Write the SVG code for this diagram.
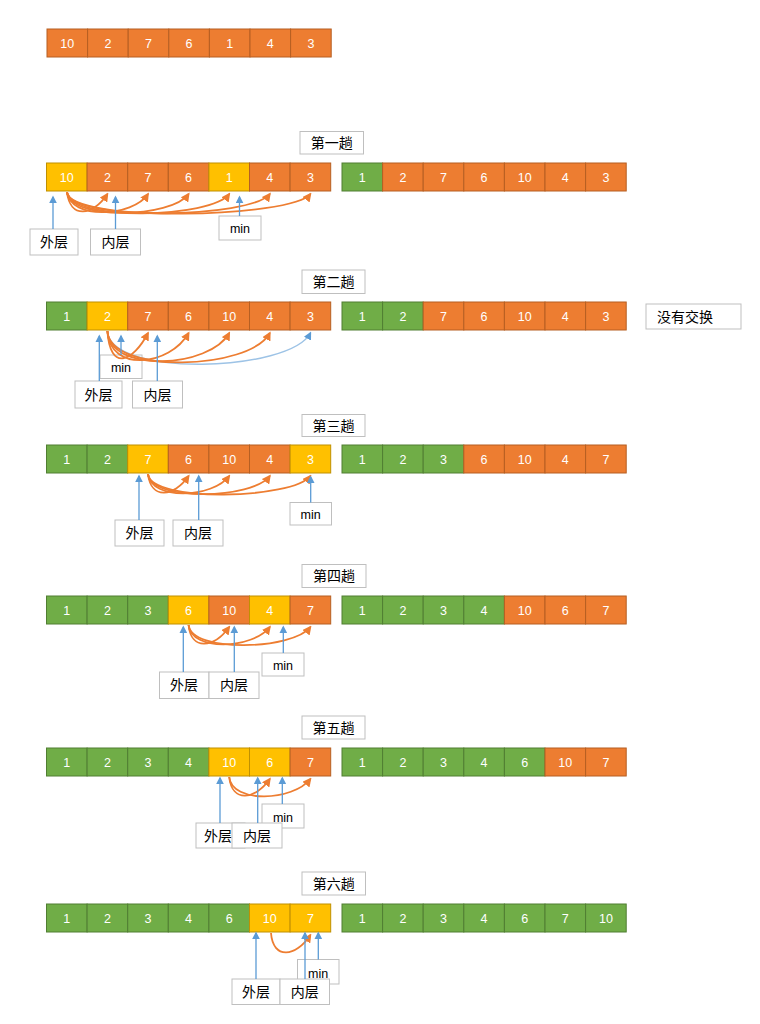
<svg xmlns="http://www.w3.org/2000/svg" width="760" height="1024" viewBox="0 0 760 1024">
<style>
.o{fill:#ED7D31;stroke:#B65F22;stroke-width:1}
.g{fill:#70AD47;stroke:#507E32;stroke-width:1}
.y{fill:#FFC000;stroke:#C09000;stroke-width:1}
.n{font-family:"Liberation Sans","Open Sans",sans-serif;font-size:12.5px;fill:#FFFFFF;text-anchor:middle}
.box{fill:#FFFFFF;stroke:#BFBFBF;stroke-width:1}
.lt{font-family:"Noto Sans CJK SC","Noto Sans",sans-serif;font-size:14px;fill:#000000;text-anchor:middle}
.mt{font-family:"Liberation Sans","Open Sans",sans-serif;font-size:12.5px;fill:#000000;text-anchor:middle}
.arc{fill:none;stroke:#ED7D31;stroke-width:1.8;marker-end:url(#ao)}
.barc{fill:none;stroke:#9DC3E6;stroke-width:1.5;marker-end:url(#ab)}
.bl{fill:none;stroke:#5B9BD5;stroke-width:1.3;marker-end:url(#ab)}
</style>
<defs>
<marker id="ao" viewBox="0 0 10 10" refX="8" refY="5" markerWidth="9" markerHeight="9" markerUnits="userSpaceOnUse" orient="auto"><path d="M0,0 L10,5 L0,10 z" fill="#ED7D31"/></marker>
<marker id="ab" viewBox="0 0 10 10" refX="8" refY="5" markerWidth="8" markerHeight="8" markerUnits="userSpaceOnUse" orient="auto"><path d="M0,0 L10,5 L0,10 z" fill="#5B9BD5"/></marker>
</defs>
<rect width="760" height="1024" fill="#FFFFFF"/>

<!-- top array -->
<g id="initial">
<rect class="o" x="47" y="29" width="40.6" height="28"/><text class="n" x="67.3" y="47.5">10</text>
<rect class="o" x="87.6" y="29" width="40.6" height="28"/><text class="n" x="107.9" y="47.5">2</text>
<rect class="o" x="128.2" y="29" width="40.6" height="28"/><text class="n" x="148.5" y="47.5">7</text>
<rect class="o" x="168.8" y="29" width="40.6" height="28"/><text class="n" x="189.1" y="47.5">6</text>
<rect class="o" x="209.4" y="29" width="40.6" height="28"/><text class="n" x="229.7" y="47.5">1</text>
<rect class="o" x="250" y="29" width="40.6" height="28"/><text class="n" x="270.3" y="47.5">4</text>
<rect class="o" x="290.6" y="29" width="40.6" height="28"/><text class="n" x="310.9" y="47.5">3</text>
</g>

<!-- pass 1 -->
<g id="title1"><rect class="box" x="300" y="131.5" width="63.5" height="22.5"/><text class="lt" x="331.7" y="148">第一趟</text></g>
<g id="pass1-before" transform="translate(46.5,163)">
<rect class="y" x="0" y="0" width="40.6" height="28"/><text class="n" x="20.3" y="18.5">10</text>
<rect class="o" x="40.6" y="0" width="40.6" height="28"/><text class="n" x="60.9" y="18.5">2</text>
<rect class="o" x="81.2" y="0" width="40.6" height="28"/><text class="n" x="101.5" y="18.5">7</text>
<rect class="o" x="121.8" y="0" width="40.6" height="28"/><text class="n" x="142.1" y="18.5">6</text>
<rect class="y" x="162.4" y="0" width="40.6" height="28"/><text class="n" x="182.7" y="18.5">1</text>
<rect class="o" x="203" y="0" width="40.6" height="28"/><text class="n" x="223.3" y="18.5">4</text>
<rect class="o" x="243.6" y="0" width="40.6" height="28"/><text class="n" x="263.9" y="18.5">3</text>
</g>
<g id="pass1-after" transform="translate(342,163)">
<rect class="g" x="0" y="0" width="40.6" height="28"/><text class="n" x="20.3" y="18.5">1</text>
<rect class="o" x="40.6" y="0" width="40.6" height="28"/><text class="n" x="60.9" y="18.5">2</text>
<rect class="o" x="81.2" y="0" width="40.6" height="28"/><text class="n" x="101.5" y="18.5">7</text>
<rect class="o" x="121.8" y="0" width="40.6" height="28"/><text class="n" x="142.1" y="18.5">6</text>
<rect class="o" x="162.4" y="0" width="40.6" height="28"/><text class="n" x="182.7" y="18.5">10</text>
<rect class="o" x="203" y="0" width="40.6" height="28"/><text class="n" x="223.3" y="18.5">4</text>
<rect class="o" x="243.6" y="0" width="40.6" height="28"/><text class="n" x="263.9" y="18.5">3</text>
</g>
<g id="p1-outer"><rect class="box" x="30" y="229" width="48" height="26"/><text class="lt" x="54" y="247">外层</text></g>
<g id="p1-inner"><rect class="box" x="90.5" y="229" width="50" height="26"/><text class="lt" x="115.5" y="247">内层</text></g>
<g id="p1-min"><rect class="box" x="219" y="216" width="42" height="24"/><text class="mt" x="240" y="233">min</text></g>

<!-- pass 2 -->
<g id="title2"><rect class="box" x="302" y="270" width="63" height="23.5"/><text class="lt" x="333.5" y="287">第二趟</text></g>
<g id="pass2-before" transform="translate(46.5,302)">
<rect class="g" x="0" y="0" width="40.6" height="28"/><text class="n" x="20.3" y="18.5">1</text>
<rect class="y" x="40.6" y="0" width="40.6" height="28"/><text class="n" x="60.9" y="18.5">2</text>
<rect class="o" x="81.2" y="0" width="40.6" height="28"/><text class="n" x="101.5" y="18.5">7</text>
<rect class="o" x="121.8" y="0" width="40.6" height="28"/><text class="n" x="142.1" y="18.5">6</text>
<rect class="o" x="162.4" y="0" width="40.6" height="28"/><text class="n" x="182.7" y="18.5">10</text>
<rect class="o" x="203" y="0" width="40.6" height="28"/><text class="n" x="223.3" y="18.5">4</text>
<rect class="o" x="243.6" y="0" width="40.6" height="28"/><text class="n" x="263.9" y="18.5">3</text>
</g>
<g id="pass2-after" transform="translate(342,302)">
<rect class="g" x="0" y="0" width="40.6" height="28"/><text class="n" x="20.3" y="18.5">1</text>
<rect class="g" x="40.6" y="0" width="40.6" height="28"/><text class="n" x="60.9" y="18.5">2</text>
<rect class="o" x="81.2" y="0" width="40.6" height="28"/><text class="n" x="101.5" y="18.5">7</text>
<rect class="o" x="121.8" y="0" width="40.6" height="28"/><text class="n" x="142.1" y="18.5">6</text>
<rect class="o" x="162.4" y="0" width="40.6" height="28"/><text class="n" x="182.7" y="18.5">10</text>
<rect class="o" x="203" y="0" width="40.6" height="28"/><text class="n" x="223.3" y="18.5">4</text>
<rect class="o" x="243.6" y="0" width="40.6" height="28"/><text class="n" x="263.9" y="18.5">3</text>
</g>
<g id="p2-noswap"><rect class="box" x="646" y="304" width="95" height="25"/><text class="lt" x="685" y="321.5">没有交换</text></g>
<g id="p2-min"><rect class="box" x="100" y="355" width="42" height="23.5"/><text class="mt" x="121" y="371.5">min</text></g>
<g id="p2-outer"><rect class="box" x="75" y="381" width="47" height="27"/><text class="lt" x="98.5" y="399.5">外层</text></g>
<g id="p2-inner"><rect class="box" x="132.5" y="381" width="50" height="27"/><text class="lt" x="157.5" y="399.5">内层</text></g>

<!-- pass 3 -->
<g id="title3"><rect class="box" x="302" y="414.5" width="63" height="22"/><text class="lt" x="333.5" y="431">第三趟</text></g>
<g id="pass3-before" transform="translate(46.5,445)">
<rect class="g" x="0" y="0" width="40.6" height="28"/><text class="n" x="20.3" y="18.5">1</text>
<rect class="g" x="40.6" y="0" width="40.6" height="28"/><text class="n" x="60.9" y="18.5">2</text>
<rect class="y" x="81.2" y="0" width="40.6" height="28"/><text class="n" x="101.5" y="18.5">7</text>
<rect class="o" x="121.8" y="0" width="40.6" height="28"/><text class="n" x="142.1" y="18.5">6</text>
<rect class="o" x="162.4" y="0" width="40.6" height="28"/><text class="n" x="182.7" y="18.5">10</text>
<rect class="o" x="203" y="0" width="40.6" height="28"/><text class="n" x="223.3" y="18.5">4</text>
<rect class="y" x="243.6" y="0" width="40.6" height="28"/><text class="n" x="263.9" y="18.5">3</text>
</g>
<g id="pass3-after" transform="translate(342,445)">
<rect class="g" x="0" y="0" width="40.6" height="28"/><text class="n" x="20.3" y="18.5">1</text>
<rect class="g" x="40.6" y="0" width="40.6" height="28"/><text class="n" x="60.9" y="18.5">2</text>
<rect class="g" x="81.2" y="0" width="40.6" height="28"/><text class="n" x="101.5" y="18.5">3</text>
<rect class="o" x="121.8" y="0" width="40.6" height="28"/><text class="n" x="142.1" y="18.5">6</text>
<rect class="o" x="162.4" y="0" width="40.6" height="28"/><text class="n" x="182.7" y="18.5">10</text>
<rect class="o" x="203" y="0" width="40.6" height="28"/><text class="n" x="223.3" y="18.5">4</text>
<rect class="o" x="243.6" y="0" width="40.6" height="28"/><text class="n" x="263.9" y="18.5">7</text>
</g>
<g id="p3-outer"><rect class="box" x="115" y="520" width="49" height="26"/><text class="lt" x="139.5" y="538">外层</text></g>
<g id="p3-inner"><rect class="box" x="173" y="520" width="50" height="26"/><text class="lt" x="198" y="538">内层</text></g>
<g id="p3-min"><rect class="box" x="290" y="502.5" width="41.5" height="22.5"/><text class="mt" x="310.7" y="518.5">min</text></g>

<!-- pass 4 -->
<g id="title4"><rect class="box" x="302" y="564.5" width="64" height="23"/><text class="lt" x="334" y="581">第四趟</text></g>
<g id="pass4-before" transform="translate(46.5,596)">
<rect class="g" x="0" y="0" width="40.6" height="28"/><text class="n" x="20.3" y="18.5">1</text>
<rect class="g" x="40.6" y="0" width="40.6" height="28"/><text class="n" x="60.9" y="18.5">2</text>
<rect class="g" x="81.2" y="0" width="40.6" height="28"/><text class="n" x="101.5" y="18.5">3</text>
<rect class="y" x="121.8" y="0" width="40.6" height="28"/><text class="n" x="142.1" y="18.5">6</text>
<rect class="o" x="162.4" y="0" width="40.6" height="28"/><text class="n" x="182.7" y="18.5">10</text>
<rect class="y" x="203" y="0" width="40.6" height="28"/><text class="n" x="223.3" y="18.5">4</text>
<rect class="o" x="243.6" y="0" width="40.6" height="28"/><text class="n" x="263.9" y="18.5">7</text>
</g>
<g id="pass4-after" transform="translate(342,596)">
<rect class="g" x="0" y="0" width="40.6" height="28"/><text class="n" x="20.3" y="18.5">1</text>
<rect class="g" x="40.6" y="0" width="40.6" height="28"/><text class="n" x="60.9" y="18.5">2</text>
<rect class="g" x="81.2" y="0" width="40.6" height="28"/><text class="n" x="101.5" y="18.5">3</text>
<rect class="g" x="121.8" y="0" width="40.6" height="28"/><text class="n" x="142.1" y="18.5">4</text>
<rect class="o" x="162.4" y="0" width="40.6" height="28"/><text class="n" x="182.7" y="18.5">10</text>
<rect class="o" x="203" y="0" width="40.6" height="28"/><text class="n" x="223.3" y="18.5">6</text>
<rect class="o" x="243.6" y="0" width="40.6" height="28"/><text class="n" x="263.9" y="18.5">7</text>
</g>
<g id="p4-min"><rect class="box" x="262" y="653" width="42" height="23"/><text class="mt" x="283" y="669.5">min</text></g>
<g id="p4-outer"><rect class="box" x="159.5" y="672" width="49.5" height="26.5"/><text class="lt" x="184" y="690">外层</text></g>
<g id="p4-inner"><rect class="box" x="209" y="672" width="50" height="26.5"/><text class="lt" x="234" y="690">内层</text></g>

<!-- pass 5 -->
<g id="title5"><rect class="box" x="302" y="716" width="63" height="23"/><text class="lt" x="333.5" y="732.5">第五趟</text></g>
<g id="pass5-before" transform="translate(46.5,748)">
<rect class="g" x="0" y="0" width="40.6" height="28"/><text class="n" x="20.3" y="18.5">1</text>
<rect class="g" x="40.6" y="0" width="40.6" height="28"/><text class="n" x="60.9" y="18.5">2</text>
<rect class="g" x="81.2" y="0" width="40.6" height="28"/><text class="n" x="101.5" y="18.5">3</text>
<rect class="g" x="121.8" y="0" width="40.6" height="28"/><text class="n" x="142.1" y="18.5">4</text>
<rect class="y" x="162.4" y="0" width="40.6" height="28"/><text class="n" x="182.7" y="18.5">10</text>
<rect class="y" x="203" y="0" width="40.6" height="28"/><text class="n" x="223.3" y="18.5">6</text>
<rect class="o" x="243.6" y="0" width="40.6" height="28"/><text class="n" x="263.9" y="18.5">7</text>
</g>
<g id="pass5-after" transform="translate(342,748)">
<rect class="g" x="0" y="0" width="40.6" height="28"/><text class="n" x="20.3" y="18.5">1</text>
<rect class="g" x="40.6" y="0" width="40.6" height="28"/><text class="n" x="60.9" y="18.5">2</text>
<rect class="g" x="81.2" y="0" width="40.6" height="28"/><text class="n" x="101.5" y="18.5">3</text>
<rect class="g" x="121.8" y="0" width="40.6" height="28"/><text class="n" x="142.1" y="18.5">4</text>
<rect class="g" x="162.4" y="0" width="40.6" height="28"/><text class="n" x="182.7" y="18.5">6</text>
<rect class="o" x="203" y="0" width="40.6" height="28"/><text class="n" x="223.3" y="18.5">10</text>
<rect class="o" x="243.6" y="0" width="40.6" height="28"/><text class="n" x="263.9" y="18.5">7</text>
</g>
<g id="p5-min"><rect class="box" x="262" y="804" width="42" height="24"/><text class="mt" x="283" y="822">min</text></g>
<g id="p5-outer"><rect class="box" x="196" y="823" width="49" height="25"/><text class="lt" x="218" y="841">外层</text></g>
<g id="p5-inner"><rect class="box" x="232" y="823" width="50" height="25"/><text class="lt" x="257" y="841">内层</text></g>

<!-- pass 6 -->
<g id="title6"><rect class="box" x="302" y="872" width="63.5" height="23"/><text class="lt" x="333.7" y="888.5">第六趟</text></g>
<g id="pass6-before" transform="translate(46.5,904)">
<rect class="g" x="0" y="0" width="40.6" height="28"/><text class="n" x="20.3" y="18.5">1</text>
<rect class="g" x="40.6" y="0" width="40.6" height="28"/><text class="n" x="60.9" y="18.5">2</text>
<rect class="g" x="81.2" y="0" width="40.6" height="28"/><text class="n" x="101.5" y="18.5">3</text>
<rect class="g" x="121.8" y="0" width="40.6" height="28"/><text class="n" x="142.1" y="18.5">4</text>
<rect class="g" x="162.4" y="0" width="40.6" height="28"/><text class="n" x="182.7" y="18.5">6</text>
<rect class="y" x="203" y="0" width="40.6" height="28"/><text class="n" x="223.3" y="18.5">10</text>
<rect class="y" x="243.6" y="0" width="40.6" height="28"/><text class="n" x="263.9" y="18.5">7</text>
</g>
<g id="pass6-after" transform="translate(342,904)">
<rect class="g" x="0" y="0" width="40.6" height="28"/><text class="n" x="20.3" y="18.5">1</text>
<rect class="g" x="40.6" y="0" width="40.6" height="28"/><text class="n" x="60.9" y="18.5">2</text>
<rect class="g" x="81.2" y="0" width="40.6" height="28"/><text class="n" x="101.5" y="18.5">3</text>
<rect class="g" x="121.8" y="0" width="40.6" height="28"/><text class="n" x="142.1" y="18.5">4</text>
<rect class="g" x="162.4" y="0" width="40.6" height="28"/><text class="n" x="182.7" y="18.5">6</text>
<rect class="g" x="203" y="0" width="40.6" height="28"/><text class="n" x="223.3" y="18.5">7</text>
<rect class="g" x="243.6" y="0" width="40.6" height="28"/><text class="n" x="263.9" y="18.5">10</text>
</g>
<g id="p6-min"><rect class="box" x="297.5" y="959.5" width="41.5" height="24.5"/><text class="mt" x="318.2" y="978">min</text></g>
<g id="p6-outer"><rect class="box" x="232" y="979" width="48" height="25.5"/><text class="lt" x="256" y="997">外层</text></g>
<g id="p6-inner"><rect class="box" x="280" y="979" width="49.5" height="25.5"/><text class="lt" x="304.7" y="997">内层</text></g>

<g id="connectors">
<!-- pass 1 -->
<path class="arc" d="M67 192 C70 219 93 216 107.4 194"/>
<path class="arc" d="M67 192 C70 220 133 217 148 194"/>
<path class="arc" d="M67 192 C70 221 172 218 188.6 194"/>
<path class="arc" d="M67 192 C70 222 212 218 229.2 194"/>
<path class="arc" d="M67 192 C70 222 252 218 269.8 194"/>
<path class="arc" d="M67 192 C70 223 292 218 310.4 194"/>
<path class="bl" d="M53 229 L53 197"/>
<path class="bl" d="M115.5 229 L115.5 197"/>
<path class="bl" d="M239.5 216 L239.5 197"/>
<!-- pass 2 -->
<path class="barc" d="M107.4 331 C110 378 290 372 310.4 333"/>
<path class="arc" d="M107.4 331 C110 372 133 362 148 333"/>
<path class="arc" d="M107.4 331 C110 373 170 366 188.6 333"/>
<path class="arc" d="M107.4 331 C110 374 210 368 229.2 333"/>
<path class="arc" d="M107.4 331 C110 375 250 370 269.8 333"/>
<path class="bl" d="M99.3 381 L99.3 336"/>
<path class="bl" d="M121 355 L121 336"/>
<path class="bl" d="M157.3 381 L157.3 336"/>
<!-- pass 3 -->
<path class="arc" d="M148 474 C151 500 174 497 188.6 476"/>
<path class="arc" d="M148 474 C151 501 213 498 229.2 476"/>
<path class="arc" d="M148 474 C151 502 253 499 269.8 476"/>
<path class="arc" d="M148 474 C151 503 293 499 310.4 476"/>
<path class="bl" d="M139 520 L139 476"/>
<path class="bl" d="M198.7 520 L198.7 476"/>
<path class="bl" d="M310.7 502.5 L310.7 477"/>
<!-- pass 4 -->
<path class="arc" d="M188.6 625 C191 651 214 648 229.2 627"/>
<path class="arc" d="M188.6 625 C191 652 253 649 269.8 627"/>
<path class="arc" d="M188.6 625 C191 653 293 650 310.4 627"/>
<path class="bl" d="M183.3 672 L183.3 627"/>
<path class="bl" d="M234.3 672 L234.3 627"/>
<path class="bl" d="M283.3 653 L283.3 627"/>
<!-- pass 5 -->
<path class="arc" d="M229.2 777 C232 803 255 800 269.8 779"/>
<path class="arc" d="M229.2 777 C232 804 293 801 310.4 779"/>
<path class="bl" d="M220 823 L220 778"/>
<path class="bl" d="M257.7 823 L257.7 778"/>
<path class="bl" d="M282.3 804 L282.3 778"/>
<!-- pass 6 -->
<path class="arc" d="M271 933 C273 960 296 957 310.4 935"/>
<path class="bl" d="M256 979 L256 933"/>
<path class="bl" d="M305 979 L305 933"/>
<path class="bl" d="M318.3 959.5 L318.3 933"/>
</g>
</svg>
